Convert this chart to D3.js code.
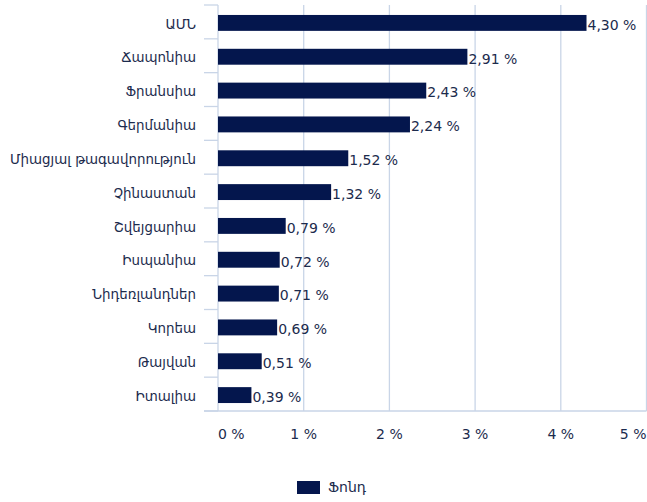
<!DOCTYPE html>
<html>
<head>
<meta charset="utf-8">
<script src="https://cdn.jsdelivr.net/npm/d3@7"></script>
<style>
  body { margin: 0; background: #fff; }
  text { font-family: "DejaVu Sans", sans-serif; fill: #1c2b4d; }
</style>
</head>
<body>
<div id="chart"></div>
<script>
const countries = ["ԱՄՆ", "Ճապոնիա", "Ֆրանսիա", "Գերմանիա", "Միացյալ թագավորություն", "Չինաստան",
  "Շվեյցարիա", "Իսպանիա", "Նիդեռլանդներ", "Կորեա", "Թայվան", "Իտալիա"];
const shares = [4.30, 2.91, 2.43, 2.24, 1.52, 1.32, 0.79, 0.72, 0.71, 0.69, 0.51, 0.39];
const xTicks = [0, 1, 2, 3, 4, 5];
const seriesName = "Ֆոնդ";

const width = 647, height = 502;
const plot = { left: 218, right: 646.5, top: 5, bottom: 411 };
const barColor = "#04164d";
const gridColor = "#c9d5e7";

const svg = d3.select("#chart").append("svg")
  .attr("width", width)
  .attr("height", height);

const x = d3.scaleLinear().domain([0, 5]).range([plot.left, plot.right]);
const y = d3.scaleBand().domain(countries).range([plot.top, plot.bottom]).padding(0);
const barH = y.step() * 0.47;

// gridlines
svg.append("g").selectAll("line")
  .data(xTicks.slice(1))
  .join("line")
  .attr("x1", d => x(d)).attr("x2", d => x(d))
  .attr("y1", plot.top).attr("y2", plot.bottom)
  .attr("stroke", gridColor).attr("stroke-width", 1.3);

// left axis line + boundary ticks
svg.append("line")
  .attr("x1", plot.left).attr("x2", plot.left).attr("y1", plot.top).attr("y2", plot.bottom)
  .attr("stroke", gridColor).attr("stroke-width", 1.3);
const bounds = countries.map(c => y(c)).concat([plot.bottom]);
svg.append("g").selectAll("line")
  .data(bounds)
  .join("line")
  .attr("x1", plot.left - 14).attr("x2", plot.left)
  .attr("y1", d => d).attr("y2", d => d)
  .attr("stroke", gridColor).attr("stroke-width", 1.3);
svg.append("line")
  .attr("x1", plot.left - 14).attr("x2", plot.right).attr("y1", plot.bottom).attr("y2", plot.bottom)
  .attr("stroke", gridColor).attr("stroke-width", 1.3);

// bars
svg.append("g").selectAll("rect")
  .data(shares)
  .join("rect")
  .attr("x", x(0))
  .attr("y", (d, i) => y(countries[i]) + (y.step() - barH) / 2 + 1)
  .attr("width", d => x(d) - x(0))
  .attr("height", barH)
  .attr("fill", barColor);

const fmt = d => d.toFixed(2).replace(".", ",") + " %";

// value labels
svg.append("g").selectAll("text")
  .data(shares)
  .join("text")
  .attr("x", d => x(d) + 1)
  .attr("y", (d, i) => y(countries[i]) + y.step() / 2 + 3)
  .attr("dy", "0.35em")
  .style("font-size", "14px")
  .text(fmt);

// category labels
svg.append("g").selectAll("text")
  .data(countries)
  .join("text")
  .attr("x", 196)
  .attr("y", d => y(d) + y.step() / 2 + 2)
  .attr("dy", "0.35em")
  .attr("text-anchor", "end")
  .style("font-size", "13.4px")
  .text(d => d);

// x tick labels (first one starts at the axis, last one ends at the edge)
svg.append("g").selectAll("text")
  .data(xTicks)
  .join("text")
  .attr("x", d => x(d))
  .attr("y", 434)
  .attr("dy", "0.35em")
  .attr("text-anchor", (d, i) => i === 0 ? "start" : i === xTicks.length - 1 ? "end" : "middle")
  .style("font-size", "14px")
  .text(d => d + " %");

// legend
const legend = svg.append("g").attr("transform", "translate(297,481)");
legend.append("rect")
  .attr("width", 23).attr("height", 13)
  .attr("fill", barColor);
legend.append("text")
  .attr("x", 31).attr("y", 6.5)
  .attr("dy", "0.35em")
  .style("font-size", "14px")
  .text(seriesName);
</script>
</body>
</html>
